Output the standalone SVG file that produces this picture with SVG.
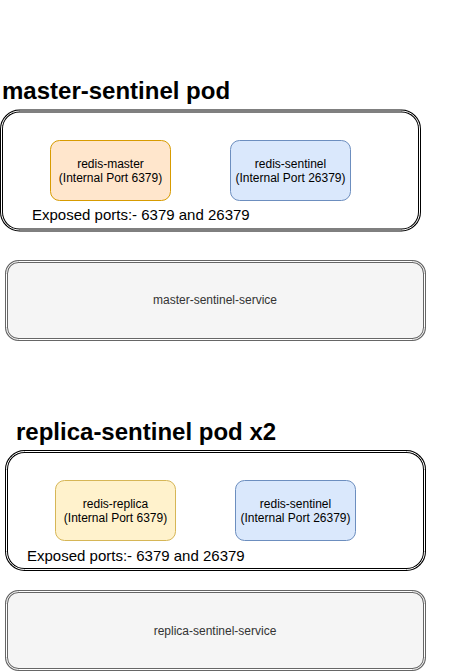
<svg xmlns="http://www.w3.org/2000/svg" width="476" height="671" viewBox="0 0 476 671">
<style>
.title{font-family:"Liberation Sans",Arial,sans-serif;font-weight:bold;font-size:24px;fill:#000}
.lbl{font-family:"Liberation Sans",Arial,sans-serif;font-size:12px;fill:#000;text-anchor:middle}
.svc{font-family:"Liberation Sans",Arial,sans-serif;font-size:12px;fill:#333;text-anchor:middle}
.exp{font-family:"Liberation Sans",Arial,sans-serif;font-size:15px;fill:#000}
.podO{fill:#fff;stroke:#000;stroke-width:3}
.podI{fill:none;stroke:#fff;stroke-width:1}
.svcO{fill:#f5f5f5;stroke:#666;stroke-width:3}
.svcI{fill:none;stroke:#fff;stroke-width:1}
.orange{fill:#ffe6cc;stroke:#d79b00}
.yellow{fill:#fff2cc;stroke:#d6b656}
.blue{fill:#dae8fc;stroke:#6c8ebf}
</style>
<rect width="476" height="671" fill="#fff"/>
<g id="master-pod">
<text class="title" x="2" y="99">master-sentinel pod</text>
<rect class="podO" x="1.5" y="111" width="418" height="119" rx="18"/>
<rect class="podI" x="1.5" y="111" width="418" height="119" rx="18"/>
<text class="exp" x="32" y="220">Exposed ports:- 6379 and 26379</text>
</g>
<g id="redis-master">
<rect class="orange" x="50.5" y="140.5" width="120" height="60" rx="9"/>
<text class="lbl" x="110.5" y="168">redis-master</text>
<text class="lbl" x="110.5" y="182">(Internal Port 6379)</text>
</g>
<g id="redis-sentinel-1">
<rect class="blue" x="230.5" y="140.5" width="120" height="60" rx="9"/>
<text class="lbl" x="290.5" y="168">redis-sentinel</text>
<text class="lbl" x="290.5" y="182">(Internal Port 26379)</text>
</g>
<g id="master-sentinel-service">
<rect class="svcO" x="6.5" y="261.5" width="418" height="78" rx="12"/>
<rect class="svcI" x="6.5" y="261.5" width="418" height="78" rx="12"/>
<text class="svc" x="215" y="304">master-sentinel-service</text>
</g>
<g id="replica-pod">
<text class="title" x="16" y="440">replica-sentinel pod x2</text>
<rect class="podO" x="6.5" y="451.5" width="418" height="118" rx="18"/>
<rect class="podI" x="6.5" y="451.5" width="418" height="118" rx="18"/>
<text class="exp" x="27" y="561">Exposed ports:- 6379 and 26379</text>
</g>
<g id="redis-replica">
<rect class="yellow" x="55.5" y="480.5" width="120" height="60" rx="9"/>
<text class="lbl" x="115.5" y="508">redis-replica</text>
<text class="lbl" x="115.5" y="522">(Internal Port 6379)</text>
</g>
<g id="redis-sentinel-2">
<rect class="blue" x="235.5" y="480.5" width="120" height="60" rx="9"/>
<text class="lbl" x="295.5" y="508">redis-sentinel</text>
<text class="lbl" x="295.5" y="522">(Internal Port 26379)</text>
</g>
<g id="replica-sentinel-service">
<rect class="svcO" x="6.5" y="591.5" width="418" height="78" rx="12"/>
<rect class="svcI" x="6.5" y="591.5" width="418" height="78" rx="12"/>
<text class="svc" x="215" y="635">replica-sentinel-service</text>
</g>
<g id="connectors"/>
</svg>
